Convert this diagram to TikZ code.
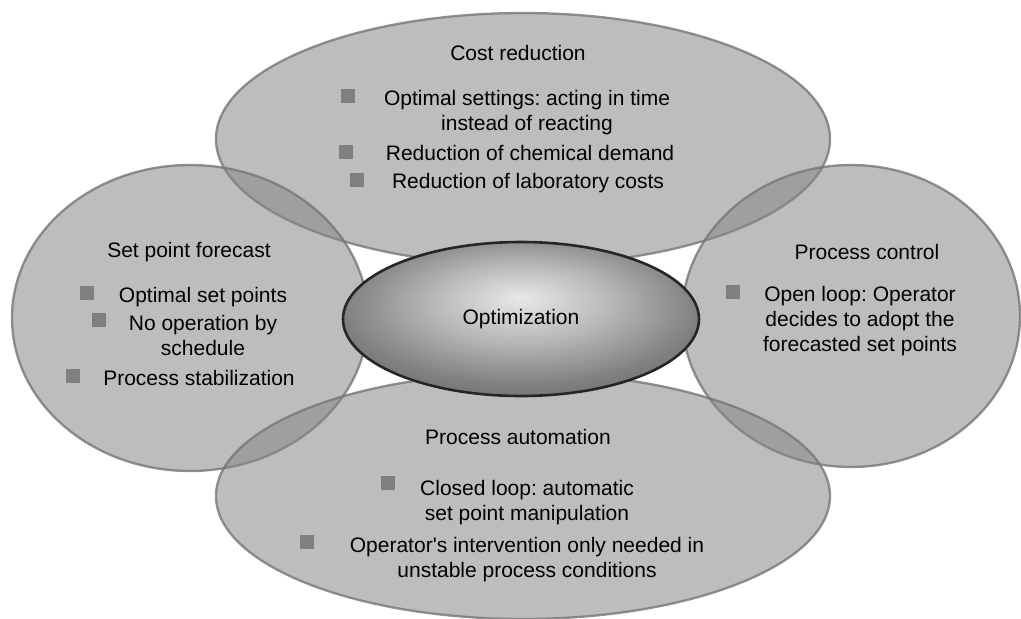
\documentclass[tikz,border=0pt]{standalone}
\usepackage{fontspec}
\setmainfont{Liberation Sans}
\usetikzlibrary{shapes.geometric}
\frenchspacing

\definecolor{bubblefill}{RGB}{134,134,134}
\definecolor{bubbleline}{RGB}{118,118,118}
\definecolor{bulletgray}{RGB}{128,128,128}

% bright core fading to dark rim, slightly above the centre
\pgfdeclareradialshading{optimshade}{\pgfpoint{0bp}{7bp}}{%
  color(0bp)=(white!91!black);
  color(12.5bp)=(white!72!black);
  color(25bp)=(black!50);
  color(40bp)=(black!66);
  color(50bp)=(black!75)}

\tikzset{
  bubble/.style={ellipse, inner sep=0pt, outer sep=0pt,
    fill=bubblefill, fill opacity=0.54,
    draw=bubbleline, draw opacity=0.8, line width=2.3pt},
  core/.style={ellipse, inner sep=0pt, outer sep=0pt,
    shade, shading=optimshade, draw=black!85, line width=2.6pt,
    font=\fontsize{21}{25.3}\selectfont, text=black},
  label/.style={inner sep=0pt, outer sep=0pt, anchor=north, align=center,
    font=\fontsize{21}{25.3}\selectfont, text=black},
  bulletsq/.style={rectangle, fill=bulletgray, minimum size=14.5pt,
    inner sep=0pt, outer sep=0pt},
}

\begin{document}
\begin{tikzpicture}[x=1pt, y=-1pt]
  \fill[white] (0,0) rectangle (1021,619);
  \useasboundingbox (0,0) rectangle (1021,619);

  % four overlapping translucent ellipses
  \node[bubble, minimum width=614pt, minimum height=252pt] (cost) at (523,139) {};
  \node[bubble, minimum width=356pt, minimum height=306pt] (setpoint) at (190,318) {};
  \node[bubble, minimum width=338pt, minimum height=302pt] (control) at (851,316) {};
  \node[bubble, minimum width=614pt, minimum height=246pt] (automation) at (523,496) {};

  % central ellipse
  \node[core, minimum width=356pt, minimum height=154pt] (optim) at (521,319) {Optimization};

  % Cost reduction
  \node[label] (costT) at (518,45) {Cost reduction};
  \node[bulletsq] (costB1) at (348,96) {};
  \node[label] (costI1) at (527,90) {Optimal settings: acting in time\\instead of reacting};
  \node[bulletsq] (costB2) at (346,152) {};
  \node[label] (costI2) at (530,145) {Reduction of chemical demand};
  \node[bulletsq] (costB3) at (357,180) {};
  \node[label] (costI3) at (528,173) {Reduction of laboratory costs};

  % Set point forecast
  \node[label] (spT) at (189,242) {Set point forecast};
  \node[bulletsq] (spB1) at (87,293) {};
  \node[label] (spI1) at (203,287) {Optimal set points};
  \node[bulletsq] (spB2) at (99,320) {};
  \node[label] (spI2) at (203,315) {No operation by\\schedule};
  \node[bulletsq] (spB3) at (73,376) {};
  \node[label] (spI3) at (199,370) {Process stabilization};

  % Process control
  \node[label] (pcT) at (867,244) {Process control};
  \node[bulletsq] (pcB1) at (733,292) {};
  \node[label] (pcI1) at (860,286) {Open loop: Operator\\decides to adopt the\\forecasted set points};

  % Process automation
  \node[label] (paT) at (518,429) {Process automation};
  \node[bulletsq] (paB1) at (388,483) {};
  \node[label] (paI1) at (527,480) {Closed loop: automatic\\set point manipulation};
  \node[bulletsq] (paB2) at (307,542) {};
  \node[label] (paI2) at (527,537) {Operator\textquotesingle s intervention only needed in\\unstable process conditions};
\end{tikzpicture}
\end{document}
